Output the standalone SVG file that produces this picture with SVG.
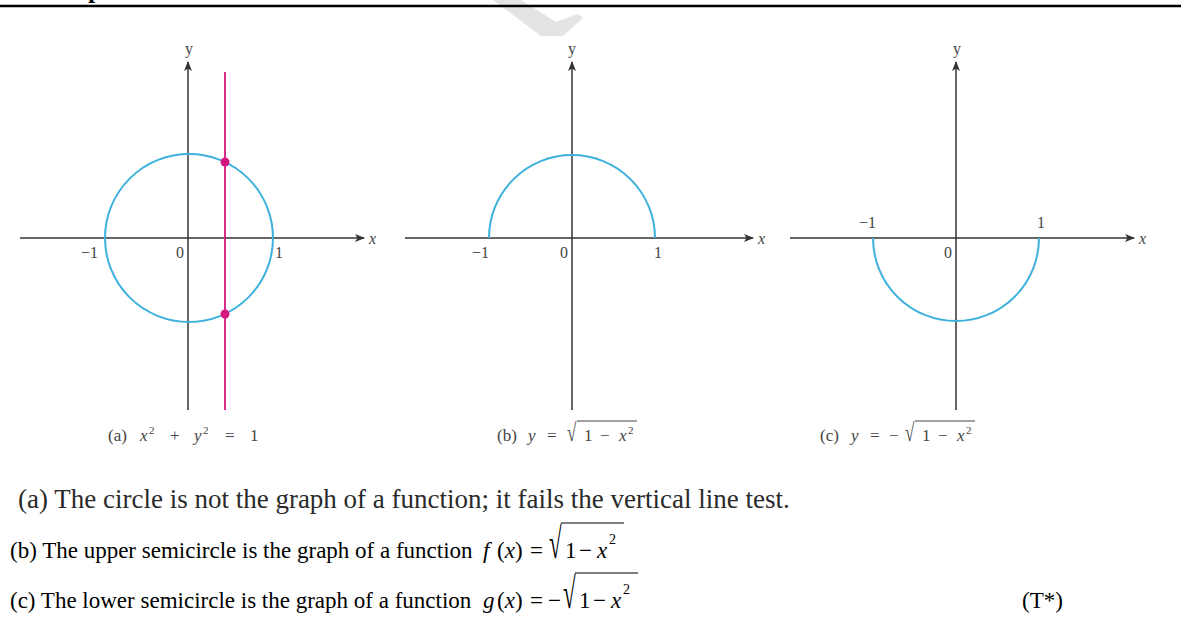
<svg xmlns="http://www.w3.org/2000/svg" width="1181" height="620" viewBox="0 0 1181 620">
<style>
.ax{stroke:#333;stroke-width:1.5;fill:none}
.cv{stroke:#3eb1dc;stroke-width:2;fill:none}
.mg{stroke:#d4177f;stroke-width:1.8;fill:none}
.lb{font-family:"Liberation Serif",serif;font-size:16px;fill:#444}
.it{font-style:italic}
.cap{font-family:"Liberation Serif",serif;font-size:17px;fill:#444}
.sup{font-size:11px}
.t1{font-family:"Liberation Serif",serif;font-size:27px;fill:#2a2a2a}
.t2{font-family:"Liberation Serif",serif;font-size:23px;fill:#000}
.ov{stroke:#000;stroke-width:1.2}
.ovc{stroke:#444;stroke-width:1}
</style>
<defs>
<marker id="ar" viewBox="0 0 10 8" refX="9" refY="4" markerWidth="10" markerHeight="8" markerUnits="userSpaceOnUse" orient="auto">
<path d="M0,0 L10,4 L0,8 L2.5,4 Z" fill="#333"/>
</marker>
</defs>
<rect width="1181" height="620" fill="#fff"/>
<g id="header">
<path d="M493,0 L521,0 L556,22 L578,14 L583,18 L563,36 L541,36 Z" fill="#e4e4e4"/>
<text x="88" y="-2" font-family="Liberation Serif,serif" font-weight="bold" font-size="26" fill="#000">p</text>
<line x1="0" y1="6" x2="1181" y2="6" stroke="#000" stroke-width="2.5"/>
</g>
<g id="graph-a">
<line class="ax" x1="20" y1="238" x2="364" y2="238" marker-end="url(#ar)"/>
<line class="ax" x1="188" y1="410" x2="188" y2="62" marker-end="url(#ar)"/>
<circle class="cv" cx="189" cy="238" r="84"/>
<line class="mg" x1="225" y1="72" x2="225" y2="410"/>
<circle cx="225" cy="162" r="4.5" fill="#d4177f"/>
<circle cx="225" cy="314" r="4.5" fill="#d4177f"/>
<text class="lb" x="189" y="54" text-anchor="middle">y</text>
<text class="lb it" x="369" y="244">x</text>
<text class="lb" x="98" y="258" text-anchor="end">−1</text>
<text class="lb" x="184" y="258" text-anchor="end">0</text>
<text class="lb" x="275" y="258">1</text>
<text class="cap" x="108" y="441">(a)<tspan class="it" x="140">x</tspan><tspan class="sup" x="149" dy="-7">2</tspan><tspan x="170" dy="7">+</tspan><tspan class="it" x="194">y</tspan><tspan class="sup" x="203" dy="-7">2</tspan><tspan x="225" dy="7">=</tspan><tspan x="250">1</tspan></text>
</g>
<g id="graph-b">
<line class="ax" x1="405" y1="238" x2="753" y2="238" marker-end="url(#ar)"/>
<line class="ax" x1="572" y1="410" x2="572" y2="62" marker-end="url(#ar)"/>
<path class="cv" d="M489,238 A83,83 0 0 1 655,238"/>
<text class="lb" x="572" y="54" text-anchor="middle">y</text>
<text class="lb it" x="758" y="244">x</text>
<text class="lb" x="489" y="258" text-anchor="end">−1</text>
<text class="lb" x="568" y="258" text-anchor="end">0</text>
<text class="lb" x="654" y="258">1</text>
<text class="cap" x="497" y="441">(b)<tspan class="it" x="528">y</tspan><tspan x="547">=</tspan><tspan x="584">1</tspan><tspan x="600">−</tspan><tspan class="it" x="619">x</tspan><tspan class="sup" x="628" dy="-7">2</tspan></text>
<text class="cap" transform="translate(567,441) scale(1,1.5)">√</text>
<line class="ovc" x1="577" y1="421" x2="637" y2="421"/>
</g>
<g id="graph-c">
<line class="ax" x1="790" y1="238" x2="1134" y2="238" marker-end="url(#ar)"/>
<line class="ax" x1="956" y1="410" x2="956" y2="62" marker-end="url(#ar)"/>
<path class="cv" d="M873,238 A83,83 0 0 0 1039,238"/>
<text class="lb" x="957" y="54" text-anchor="middle">y</text>
<text class="lb it" x="1139" y="244">x</text>
<text class="lb" x="876" y="228" text-anchor="end">−1</text>
<text class="lb" x="952" y="258" text-anchor="end">0</text>
<text class="lb" x="1037" y="228">1</text>
<text class="cap" x="820" y="441">(c)<tspan class="it" x="851">y</tspan><tspan x="870">=</tspan><tspan x="889">−</tspan><tspan x="922">1</tspan><tspan x="938">−</tspan><tspan class="it" x="957">x</tspan><tspan class="sup" x="966" dy="-7">2</tspan></text>
<text class="cap" transform="translate(905,441) scale(1,1.5)">√</text>
<line class="ovc" x1="915" y1="421" x2="975" y2="421"/>
</g>
<g id="text-lines">
<text class="t1" x="18" y="508">(a) The circle is not the graph of a function; it fails the vertical line test.</text>
<text class="t2" x="10" y="558">(b) The upper semicircle is the graph of a function</text>
<text class="t2" x="483" y="558"><tspan class="it">f</tspan><tspan x="497">(</tspan><tspan class="it">x</tspan>)<tspan x="530">=</tspan><tspan x="565">1</tspan><tspan x="579">−</tspan><tspan x="597" class="it">x</tspan><tspan font-size="14" x="609" dy="-14">2</tspan></text>
<text class="t2" transform="translate(549,558) scale(1,1.9)">√</text>
<line class="ov" x1="561" y1="523" x2="624" y2="523"/>
<text class="t2" x="10" y="608">(c) The lower semicircle is the graph of a function</text>
<text class="t2" x="483" y="608"><tspan class="it">g</tspan><tspan x="497">(</tspan><tspan class="it">x</tspan>)<tspan x="530">=</tspan><tspan x="548">−</tspan><tspan x="579">1</tspan><tspan x="593">−</tspan><tspan x="611" class="it">x</tspan><tspan font-size="14" x="623" dy="-14">2</tspan></text>
<text class="t2" transform="translate(563,608) scale(1,1.9)">√</text>
<line class="ov" x1="575" y1="573" x2="638" y2="573"/>
<text class="t2" x="1022" y="608" font-size="24">(T*)</text>
</g>
</svg>
